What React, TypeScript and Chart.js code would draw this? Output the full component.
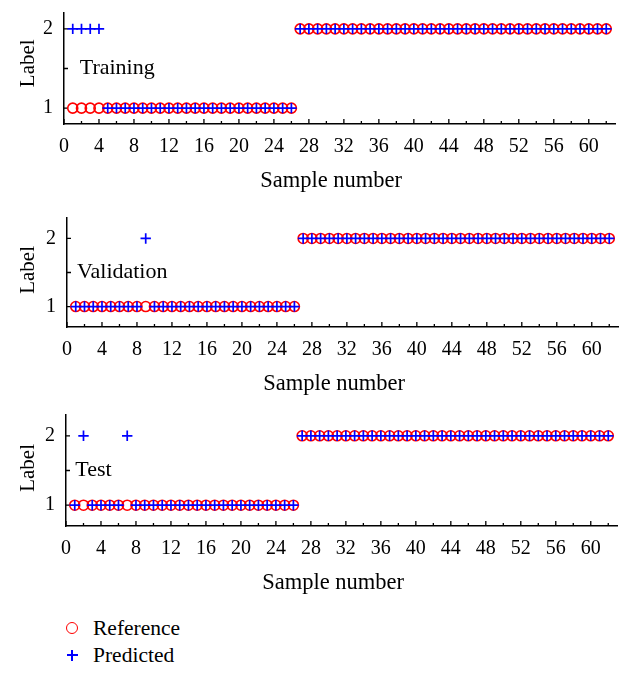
import React, { useEffect, useRef } from "react";
import { Chart, registerables } from "chart.js";

Chart.register(...registerables);

// ---------- data ----------
const sampleNumbers = [
  1, 2, 3, 4, 5, 6, 7, 8, 9, 10, 11, 12, 13, 14, 15, 16, 17, 18, 19, 20, 21,
  22, 23, 24, 25, 26, 27, 28, 29, 30, 31, 32, 33, 34, 35, 36, 37, 38, 39, 40, 41,
  42, 43, 44, 45, 46, 47, 48, 49, 50, 51, 52, 53, 54, 55, 56, 57, 58, 59, 60, 61, 62,
];

const trainingReference = [
  1, 1, 1, 1, 1, 1, 1, 1, 1, 1, 1, 1, 1, 1, 1, 1, 1, 1, 1, 1, 1, 1, 1, 1, 1, 1,
  2, 2, 2, 2, 2, 2, 2, 2, 2, 2, 2, 2,
  2, 2, 2, 2, 2, 2, 2, 2, 2, 2, 2, 2,
  2, 2, 2, 2, 2, 2, 2, 2, 2, 2, 2, 2,
];
const trainingPredicted = [
  2, 2, 2, 2, 1, 1, 1, 1, 1, 1, 1, 1, 1, 1, 1, 1, 1, 1, 1, 1, 1, 1, 1, 1, 1, 1,
  2, 2, 2, 2, 2, 2, 2, 2, 2, 2, 2, 2,
  2, 2, 2, 2, 2, 2, 2, 2, 2, 2, 2, 2,
  2, 2, 2, 2, 2, 2, 2, 2, 2, 2, 2, 2,
];

const validationReference = [
  1, 1, 1, 1, 1, 1, 1, 1, 1, 1, 1, 1, 1, 1, 1, 1, 1, 1, 1, 1, 1, 1, 1, 1, 1, 1,
  2, 2, 2, 2, 2, 2, 2, 2, 2, 2, 2, 2,
  2, 2, 2, 2, 2, 2, 2, 2, 2, 2, 2, 2,
  2, 2, 2, 2, 2, 2, 2, 2, 2, 2, 2, 2,
];
const validationPredicted = [
  1, 1, 1, 1, 1, 1, 1, 1, 2, 1, 1, 1, 1, 1, 1, 1, 1, 1, 1, 1, 1, 1, 1, 1, 1, 1,
  2, 2, 2, 2, 2, 2, 2, 2, 2, 2, 2, 2,
  2, 2, 2, 2, 2, 2, 2, 2, 2, 2, 2, 2,
  2, 2, 2, 2, 2, 2, 2, 2, 2, 2, 2, 2,
];

const testReference = [
  1, 1, 1, 1, 1, 1, 1, 1, 1, 1, 1, 1, 1, 1, 1, 1, 1, 1, 1, 1, 1, 1, 1, 1, 1, 1,
  2, 2, 2, 2, 2, 2, 2, 2, 2, 2, 2, 2,
  2, 2, 2, 2, 2, 2, 2, 2, 2, 2, 2, 2,
  2, 2, 2, 2, 2, 2, 2, 2, 2, 2, 2, 2,
];
const testPredicted = [
  1, 2, 1, 1, 1, 1, 2, 1, 1, 1, 1, 1, 1, 1, 1, 1, 1, 1, 1, 1, 1, 1, 1, 1, 1, 1,
  2, 2, 2, 2, 2, 2, 2, 2, 2, 2, 2, 2,
  2, 2, 2, 2, 2, 2, 2, 2, 2, 2, 2, 2,
  2, 2, 2, 2, 2, 2, 2, 2, 2, 2, 2, 2,
];

const xTickValues = [
  0, 2, 4, 6, 8, 10, 12, 14, 16, 18, 20, 22, 24, 26, 28, 30, 32, 34, 36, 38, 40,
  42, 44, 46, 48, 50, 52, 54, 56, 58, 60, 62,
];
const xLabelValues = [0, 4, 8, 12, 16, 20, 24, 28, 32, 36, 40, 44, 48, 52, 56, 60];
const yTickValues = [1, 1.5, 2];
const yLabelValues = [1, 2];

const xTitle = "Sample number";
const yTitle = "Label";
const referenceName = "Reference";
const predictedName = "Predicted";

// ---------- style ----------
const FONT = '"Liberation Serif", "Times New Roman", serif';
const RED = "#ff0000";
const BLUE = "#0000ff";

type PanelCfg = {
  name: string;
  reference: number[];
  predicted: number[];
  yMin: number;
  yMax: number;
  top: number;
  height: number;
  padTop: number;
  padBottom: number;
  padRight: number;
  yWidth: number;
  nameX: number;
  yTitleLead: string;
};

const panels: PanelCfg[] = [
  {
    name: "Training",
    reference: trainingReference,
    predicted: trainingPredicted,
    yMin: 0.8,
    yMax: 2.2,
    top: 0,
    height: 200,
    padTop: 13,
    padBottom: 5,
    padRight: 17,
    yWidth: 64,
    nameX: 1.8,
    yTitleLead: "  ",
  },
  {
    name: "Validation",
    reference: validationReference,
    predicted: validationPredicted,
    yMin: 0.7,
    yMax: 2.3,
    top: 200,
    height: 200,
    padTop: 18,
    padBottom: 2,
    padRight: 14,
    yWidth: 67,
    nameX: 1.15,
    yTitleLead: " ",
  },
  {
    name: "Test",
    reference: testReference,
    predicted: testPredicted,
    yMin: 0.7,
    yMax: 2.3,
    top: 400,
    height: 200,
    padTop: 15,
    padBottom: 3,
    padRight: 15,
    yWidth: 66,
    nameX: 1.07,
    yTitleLead: " ",
  },
];

const decorPlugin = {
  id: "decor",
  beforeDatasetsDraw(chart: any) {
    const { ctx, chartArea, scales } = chart;
    const x = scales.x;
    const y = scales.y;
    ctx.save();
    ctx.strokeStyle = "#000";
    ctx.lineWidth = 1.3;
    ctx.beginPath();
    for (const v of xTickValues) {
      const px = x.getPixelForValue(v);
      const len = xLabelValues.includes(v) ? 5 : 3;
      ctx.moveTo(px, chartArea.bottom);
      ctx.lineTo(px, chartArea.bottom - len);
    }
    for (const v of yTickValues) {
      const py = y.getPixelForValue(v);
      ctx.moveTo(chartArea.left, py);
      ctx.lineTo(chartArea.left + 4, py);
    }
    ctx.stroke();
    ctx.restore();
  },
  afterDraw(chart: any, _args: any, opts: any) {
    const { ctx, scales } = chart;
    ctx.save();
    ctx.fillStyle = "#000";
    ctx.font = `22px ${FONT}`;
    ctx.textAlign = "left";
    ctx.textBaseline = "middle";
    ctx.fillText(
      opts.text,
      scales.x.getPixelForValue(opts.x),
      scales.y.getPixelForValue(1.5)
    );
    ctx.restore();
  },
};

function Panel({ cfg }: { cfg: PanelCfg }) {
  const ref = useRef<HTMLCanvasElement | null>(null);
  useEffect(() => {
    if (!ref.current) return;
    const chart = new Chart(ref.current, {
      type: "scatter",
      data: {
        datasets: [
          {
            label: predictedName,
            data: sampleNumbers.map((s, i) => ({ x: s, y: cfg.predicted[i] })),
            pointStyle: "cross",
            pointRadius: 5.2,
            borderColor: BLUE,
            backgroundColor: BLUE,
            borderWidth: 1.7,
            order: 0,
          },
          {
            label: referenceName,
            data: sampleNumbers.map((s, i) => ({ x: s, y: cfg.reference[i] })),
            pointStyle: "circle",
            pointRadius: 5,
            borderColor: RED,
            backgroundColor: "rgba(0,0,0,0)",
            borderWidth: 1.6,
            order: 1,
          },
        ],
      },
      options: {
        animation: false,
        responsive: false,
        maintainAspectRatio: false,
        events: [],
        layout: {
          padding: { top: cfg.padTop, bottom: cfg.padBottom, left: 0, right: cfg.padRight },
        },
        plugins: {
          legend: { display: false },
          tooltip: { enabled: false },
          decor: { text: cfg.name, x: cfg.nameX },
        } as any,
        scales: {
          x: {
            type: "linear",
            min: 0,
            max: 63,
            afterBuildTicks: (s: any) => {
              s.ticks = xTickValues.map((v) => ({ value: v }));
            },
            afterFit: (s: any) => {
              s.height = 71;
              s.paddingLeft = 0;
              s.paddingRight = 0;
            },
            ticks: {
              autoSkip: false,
              maxRotation: 0,
              minRotation: 0,
              padding: 11,
              color: "#000",
              font: { family: FONT, size: 20 },
              callback: (v: any) => (xLabelValues.includes(Number(v)) ? String(v) : ""),
            },
            grid: { display: false, drawTicks: false, tickLength: 0 },
            border: { display: true, color: "#000", width: 1.5 },
            title: {
              display: true,
              text: xTitle + "   ",
              color: "#000",
              font: { family: FONT, size: 22.5 },
              padding: { top: 0, bottom: 0 },
            },
          },
          y: {
            type: "linear",
            min: cfg.yMin,
            max: cfg.yMax,
            afterBuildTicks: (s: any) => {
              s.ticks = yTickValues.map((v) => ({ value: v }));
            },
            afterFit: (s: any) => {
              s.width = cfg.yWidth;
              s.paddingTop = 0;
              s.paddingBottom = 0;
            },
            ticks: {
              autoSkip: false,
              padding: 11,
              color: "#000",
              font: { family: FONT, size: 20 },
              callback: (v: any) => (yLabelValues.includes(Number(v)) ? String(v) : ""),
            },
            grid: { display: false, drawTicks: false, tickLength: 0 },
            border: { display: true, color: "#000", width: 1.5 },
            title: {
              display: true,
              text: cfg.yTitleLead + yTitle,
              color: "#000",
              font: { family: FONT, size: 21 },
              padding: { top: 16, bottom: 0 },
            },
          },
        },
      },
      plugins: [decorPlugin as any],
    });
    return () => chart.destroy();
  }, [cfg]);
  return (
    <canvas
      ref={ref}
      width={632}
      height={cfg.height}
      style={{ position: "absolute", left: 0, top: cfg.top, width: 632, height: cfg.height }}
    />
  );
}

function Legend() {
  const textStyle: React.CSSProperties = {
    position: "absolute",
    left: 93,
    fontFamily: FONT,
    fontSize: 21.5,
    lineHeight: "24px",
    color: "#000",
    whiteSpace: "nowrap",
  };
  return (
    <>
      <div
        style={{
          position: "absolute",
          left: 72 - 6,
          top: 628 - 6,
          width: 12,
          height: 12,
          boxSizing: "border-box",
          border: `1.6px solid ${RED}`,
          borderRadius: "50%",
        }}
      />
      <div style={{ ...textStyle, top: 628 - 12.5 }}>{referenceName}</div>
      <div
        style={{
          position: "absolute",
          left: 66.5,
          top: 655 - 0.8,
          width: 11,
          height: 1.6,
          background: BLUE,
        }}
      />
      <div
        style={{
          position: "absolute",
          left: 72 - 0.8,
          top: 649.5,
          width: 1.6,
          height: 11,
          background: BLUE,
        }}
      />
      <div style={{ ...textStyle, top: 655 - 12.5 }}>{predictedName}</div>
    </>
  );
}

export default function App() {
  return (
    <div
      style={{
        position: "fixed",
        left: 0,
        top: 0,
        width: 632,
        height: 675,
        background: "#fff",
        overflow: "hidden",
      }}
    >
      {panels.map((p) => (
        <Panel key={p.name} cfg={p} />
      ))}
      <Legend />
    </div>
  );
}
